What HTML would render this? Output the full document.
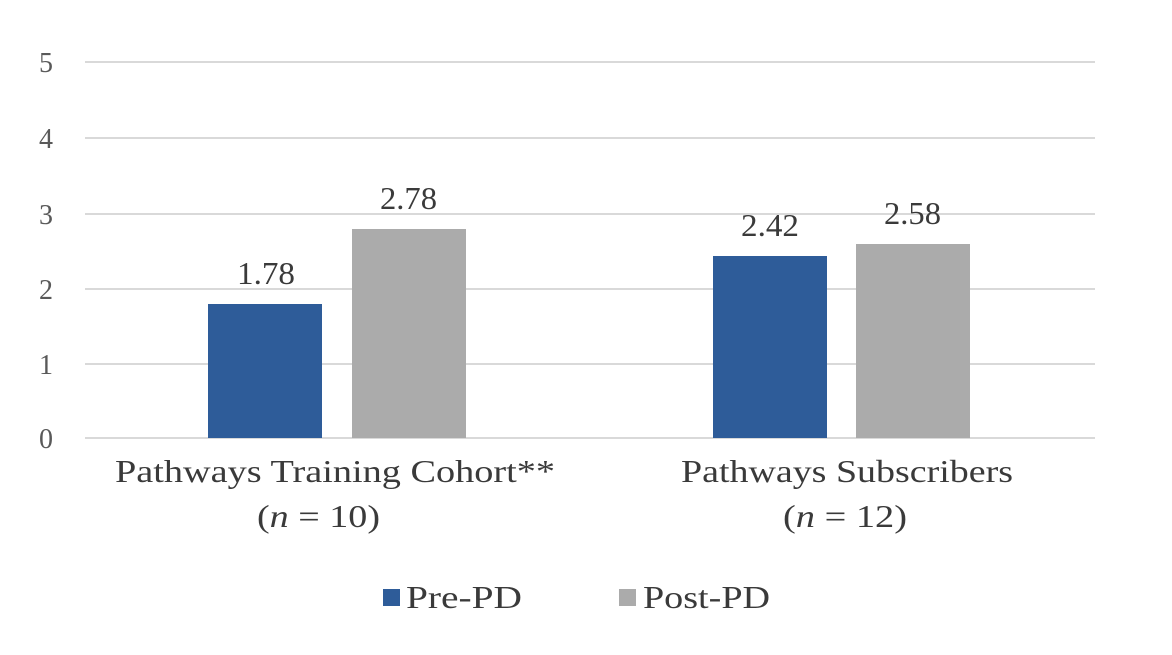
<!DOCTYPE html>
<html><head><style>body{margin:0;background:#fff}</style></head><body>
<svg width="1172" height="650" xmlns="http://www.w3.org/2000/svg" font-family="'Liberation Serif',serif">
<rect width="1172" height="650" fill="#fff"/>
<g stroke="#d9d9d9" stroke-width="2">
<line x1="85" x2="1095" y1="62" y2="62"/><line x1="85" x2="1095" y1="138" y2="138"/>
<line x1="85" x2="1095" y1="214" y2="214"/><line x1="85" x2="1095" y1="289" y2="289"/>
<line x1="85" x2="1095" y1="364" y2="364"/><line x1="85" x2="1095" y1="438" y2="438"/>
</g>
<g fill="#595959" font-size="28" text-anchor="middle">
<text x="46" y="72">5</text><text x="46" y="148">4</text><text x="46" y="224">3</text>
<text x="46" y="299">2</text><text x="46" y="374">1</text><text x="46" y="448">0</text>
</g>
<rect x="208" y="304" width="114" height="134" fill="#2E5C99"/>
<rect x="352" y="229" width="114" height="209" fill="#ABABAB"/>
<rect x="713" y="256" width="114" height="182" fill="#2E5C99"/>
<rect x="856" y="244" width="114" height="194" fill="#ABABAB"/>
<g fill="#3a3a3a" font-size="32" lengthAdjust="spacingAndGlyphs">
<text x="237" y="284" textLength="58" lengthAdjust="spacingAndGlyphs">1.78</text><text x="380" y="209" textLength="57" lengthAdjust="spacingAndGlyphs">2.78</text>
<text x="741" y="236" textLength="58" lengthAdjust="spacingAndGlyphs">2.42</text><text x="884" y="224" textLength="57" lengthAdjust="spacingAndGlyphs">2.58</text>
<text x="115" y="482" textLength="440" lengthAdjust="spacingAndGlyphs">Pathways Training Cohort**</text>
<text x="257" y="527" textLength="123" lengthAdjust="spacingAndGlyphs">(<tspan font-style="italic">n</tspan> = 10)</text>
<text x="681" y="482" textLength="332" lengthAdjust="spacingAndGlyphs">Pathways Subscribers</text>
<text x="783" y="527" textLength="124" lengthAdjust="spacingAndGlyphs">(<tspan font-style="italic">n</tspan> = 12)</text>
<text x="406" y="608" textLength="116" lengthAdjust="spacingAndGlyphs">Pre-PD</text>
<text x="643" y="608" textLength="127" lengthAdjust="spacingAndGlyphs">Post-PD</text>
</g>
<rect x="383" y="589" width="17" height="17" fill="#2E5C99"/>
<rect x="619" y="589" width="17" height="17" fill="#ABABAB"/>
</svg>
</body></html>
